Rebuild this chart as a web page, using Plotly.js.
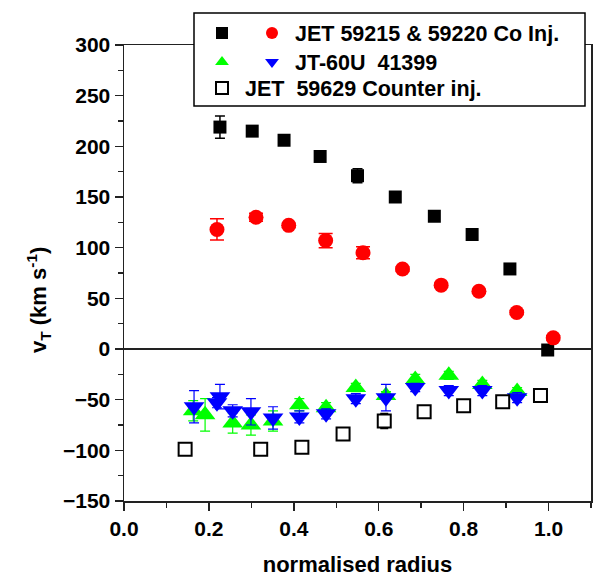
<!DOCTYPE html>
<html>
<head>
<meta charset="utf-8">
<script src="https://cdn.plot.ly/plotly-3.0.1.min.js"></script>
<style>html,body{margin:0;padding:0;background:#fff;}#chart{width:600px;height:578px;}</style>
</head>
<body>
<div id="chart"></div>
<script>
// JET 59215 & 59220 co-injection (squares)
var jetSqX   = [0.226, 0.302, 0.377, 0.462, 0.550, 0.639, 0.731, 0.820, 0.909, 0.998];
var jetSqY   = [219, 215, 206, 190, 171, 150, 131, 113, 79, -1];
var jetSqErr = [11, 4, 4, 3, 7, 2, 2, 2, 2, 2];
// JET 59215 & 59220 co-injection (circles)
var jetCiX   = [0.219, 0.311, 0.388, 0.475, 0.563, 0.656, 0.747, 0.836, 0.925, 1.011];
var jetCiY   = [118, 130, 122, 107, 95, 79, 63, 57, 36, 11];
var jetCiErr = [10.5, 4, 2, 7, 6, 2, 2, 2, 2, 2];
// JT-60U 41399 (up triangles, green)
var jtUpX   = [0.163, 0.191, 0.256, 0.299, 0.351, 0.413, 0.476, 0.546, 0.617, 0.686, 0.765, 0.844, 0.926];
var jtUpY   = [-61, -65, -73, -75, -71, -55, -58, -38, -46, -30, -26, -35, -42];
var jtUpErr = [10, 16, 10, 10, 10, 6, 5, 4, 4, 5, 4, 4, 4];
// JT-60U 41399 (down triangles, blue)
var jtDnX   = [0.165, 0.219, 0.226, 0.256, 0.299, 0.351, 0.413, 0.476, 0.546, 0.617, 0.686, 0.765, 0.844, 0.926];
var jtDnY   = [-57, -53, -47, -61, -62, -68, -67, -64, -49, -48, -38, -41, -41, -48];
var jtDnErr = [16, 5, 12, 6, 13, 11, 6, 5, 5, 13, 4, 5, 5, 5];
// JET 59629 counter injection (open squares)
var jetCtX   = [0.144, 0.322, 0.419, 0.516, 0.613, 0.707, 0.800, 0.892, 0.981];
var jetCtY   = [-99, -99, -97, -84, -71, -62, -56, -52, -46];
var jetCtErr = [5, 3, 3, 4, 7.5, 3, 3, 3, 3];

var names = ['\u00a0', 'JET 59215 & 59220 Co Inj.', '\u00a0', 'JT-60U  41399', 'JET  59629 Counter inj.'];
var xTicks = [0.0, 0.2, 0.4, 0.6, 0.8, 1.0];

var FONT = 'Liberation Sans, Arial, sans-serif';

function errBar(arr, color, w, t) {
  return {type: 'data', array: arr, visible: true, color: color, thickness: t || 1.5, width: w};
}

var traces = [
  {x: jetSqX, y: jetSqY, mode: 'markers', type: 'scatter', name: names[0], legend: 'legend',
   marker: {symbol: 'square', size: 13, color: '#000000'}, error_y: errBar(jetSqErr, '#000000', 5)},
  {x: jetCiX, y: jetCiY, mode: 'markers', type: 'scatter', name: names[1], legend: 'legend2',
   marker: {symbol: 'circle', size: 15, color: '#ff0000'}, error_y: errBar(jetCiErr, '#ff0000', 7)},
  {x: jtUpX, y: jtUpY, mode: 'markers', type: 'scatter', name: names[2], legend: 'legend3',
   marker: {symbol: 'triangle-up', size: 18, color: '#00ff00'}, error_y: errBar(jtUpErr, '#00ff00', 5, 1.2)},
  {x: jtDnX, y: jtDnY, mode: 'markers', type: 'scatter', name: names[3], legend: 'legend4',
   marker: {symbol: 'triangle-down', size: 18, color: '#0000ff'}, error_y: errBar(jtDnErr, '#0000ff', 5, 1.2)},
  {x: jetCtX, y: jetCtY, mode: 'markers', type: 'scatter', name: names[4], legend: 'legend5',
   marker: {symbol: 'square', size: 13, color: '#ffffff', line: {color: '#000000', width: 2}},
   error_y: errBar(jetCtErr, '#000000', 4, 1.2)}
];

var plotL = 124, plotR = 591, plotT = 45, plotB = 501;
var pw = plotR - plotL, ph = plotB - plotT;
function px2x(p) { return (p - plotL) / pw; }
function py2y(p) { return (plotB - p) / ph; }

function leg(xp, yp) {
  return {x: px2x(xp), y: py2y(yp), xref: 'paper', yref: 'paper', xanchor: 'left', yanchor: 'middle',
          bgcolor: 'rgba(0,0,0,0)', borderwidth: 0, itemsizing: 'constant', itemwidth: 36,
          font: {family: FONT, size: 21.5, color: '#000', weight: 'bold'}};
}

var layout = {
  width: 600, height: 578,
  margin: {l: plotL, r: 600 - plotR, t: plotT, b: 578 - plotB},
  paper_bgcolor: '#ffffff', plot_bgcolor: '#ffffff',
  font: {family: FONT, color: '#000', size: 21, weight: 'bold'},
  showlegend: true,
  xaxis: {
    range: [0, 1.1], tickvals: xTicks, tickformat: '.1f',
    showline: true, linecolor: '#222', linewidth: 1.5, mirror: true,
    ticks: 'outside', ticklen: 8, tickwidth: 1.5, tickcolor: '#222',
    minor: {dtick: 0.1, ticks: 'outside', ticklen: 5, tickwidth: 1.5, tickcolor: '#222'},
    showgrid: false, zeroline: false,
    tickfont: {family: FONT, size: 21, weight: 'bold', color: '#000'},
    title: {text: 'normalised radius', font: {family: FONT, size: 22, weight: 'bold', color: '#000'}, standoff: 18}
  },
  yaxis: {
    range: [-150, 300], dtick: 50,
    showline: true, linecolor: '#222', linewidth: 1.5, mirror: true,
    ticks: 'outside', ticklen: 8, tickwidth: 1.5, tickcolor: '#222',
    minor: {dtick: 25, ticks: 'outside', ticklen: 5, tickwidth: 1.5, tickcolor: '#222'},
    showgrid: false, zeroline: true, zerolinecolor: '#222', zerolinewidth: 1.5,
    tickfont: {family: FONT, size: 21, weight: 'bold', color: '#000'}
  },
  legend: leg(199, 33),
  legend2: leg(249, 33),
  legend3: leg(199, 62),
  legend4: leg(249, 62),
  legend5: leg(199, 88),
  shapes: [
    {type: 'rect', xref: 'paper', yref: 'paper', layer: 'above',
     x0: px2x(194), x1: px2x(585), y0: py2y(106), y1: py2y(13),
     fillcolor: '#ffffff', line: {color: '#000000', width: 1.5}}
  ],
  annotations: [
    {text: 'v<sub>T</sub> (km s<sup>-1</sup>)', textangle: -90, showarrow: false,
     xref: 'paper', yref: 'paper', x: px2x(38), y: py2y(300), xanchor: 'center', yanchor: 'middle',
     font: {family: FONT, size: 22, weight: 'bold', color: '#000'}}
  ]
};

Plotly.newPlot('chart', traces, layout, {displayModeBar: false, staticPlot: true});
</script>
</body>
</html>
